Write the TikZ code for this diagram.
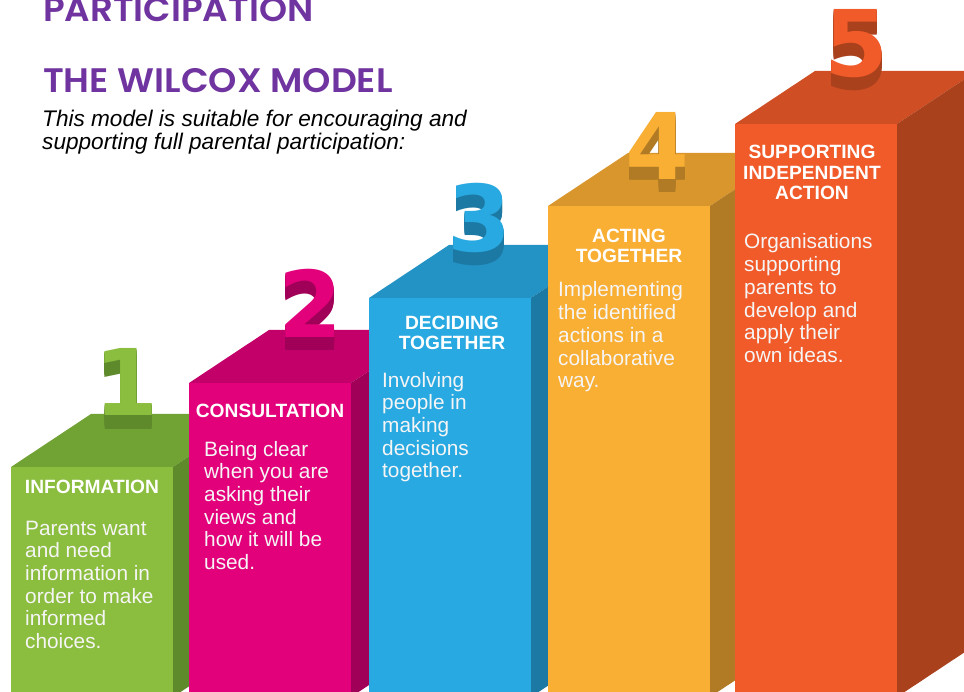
\documentclass[tikz,border=0pt]{standalone}
\usepackage{fontspec}
\setmainfont{Liberation Sans}
\newfontfamily\numfont{DejaVu Sans}[BoldFont=* Bold]
\IfFontExistsTF{Poppins SemiBold}{\newfontfamily\titlefont{Poppins SemiBold}}{%
  \IfFontExistsTF{Poppins Medium}{\newfontfamily\titlefont{Poppins Medium}}{%
    \newfontfamily\titlefont{Poppins}[FakeBold=1.2]}}
\definecolor{ttl}{HTML}{7034A0}
\definecolor{gF}{HTML}{8BBD3E}\definecolor{gT}{HTML}{70A234}\definecolor{gS}{HTML}{5E8A2C}
\definecolor{pF}{HTML}{E3007B}\definecolor{pT}{HTML}{C3006A}\definecolor{pS}{HTML}{A10058}
\definecolor{bF}{HTML}{29A9E1}\definecolor{bT}{HTML}{2392C4}\definecolor{bS}{HTML}{1C79A3}
\definecolor{oF}{HTML}{F9AE34}\definecolor{oT}{HTML}{D9962D}\definecolor{oS}{HTML}{B07B24}
\definecolor{rF}{HTML}{F15A29}\definecolor{rT}{HTML}{D04E23}\definecolor{rS}{HTML}{A9411D}
\newcommand\drawcolumn[5]{%
  \fill[#4] (#1,#2) -- ++(162,0) -- ++(80,-53) -- ++(-162,0) -- cycle;
  \fill[#5] (#1+162,#2) -- ++(80,-53) -- (#1+242,644) -- (#1+162,697) -- cycle;
  \fill[#3] (#1,#2) rectangle (#1+162,697);
}
\newcommand\drawnumber[6]{% name, x, baseline y, digit, front, dark
  \foreach \d in {1,...,13}{\node[numtxt, text=#6] at (#2,#3+\d) {#4};}
  \node[numtxt, text=#5] (#1) at (#2,#3) {#4};
}
\tikzset{
  numtxt/.style={anchor=base, inner sep=0, font=\numfont\bfseries\fontsize{92}{92}\selectfont},
  lbl/.style={anchor=base, inner sep=0, align=center, text=white,
    font=\bfseries\fontsize{19.2}{20.5}\selectfont},
  body/.style={anchor=base west, inner sep=0, align=left, text=white!96!black,
    font=\fontsize{20.8}{22.7}\selectfont},
  ttlstyle/.style={anchor=base west, inner sep=0, text=ttl,
    font=\titlefont\fontsize{34}{34}\selectfont},
}
\begin{document}
\begin{tikzpicture}[x=1pt,y=-1pt]
\useasboundingbox (0,0) rectangle (964,692);
\clip (0,0) rectangle (964,692);
\fill[white] (0,0) rectangle (964,692);
% titles (multi-line nodes: base anchor = last baseline)
\node[ttlstyle] (t1) at (43,22) {\scalebox{1.05}[1]{PARTICIPATION}};
\node[ttlstyle] (t2) at (43,93) {\scalebox{1.06}[1]{THE WILCOX MODEL}};
\node[anchor=base west, inner sep=0, align=left, font=\itshape\fontsize{22.6}{22.5}\selectfont]
  (intro) at (42,149.5) {This model is suitable for encouraging and\\supporting full parental participation:};
% columns
\drawcolumn{11}{467}{gF}{gT}{gS}
\drawnumber{n1}{127}{416}{1}{gF}{gS}
\drawcolumn{189}{383}{pF}{pT}{pS}
\drawnumber{n2}{311}{338}{2}{pF}{pS}
\drawcolumn{369}{298}{bF}{bT}{bS}
\drawnumber{n3}{480}{252}{3}{bF}{bS}
\drawcolumn{548}{206}{oF}{oT}{oS}
\drawnumber{n4}{658}{180}{4}{oF}{oS}
\drawcolumn{735}{124}{rF}{rT}{rS}
\drawnumber{n5}{856}{77}{5}{rF}{rS}
% labels
\node[lbl] (l1) at (92,493) {INFORMATION};
\node[lbl] (l2) at (270,418) {CONSULTATION};
\node[lbl] (l3) at (452,350) {DECIDING\\TOGETHER};
\node[lbl] (l4) at (629,263) {ACTING\\TOGETHER};
\node[lbl] (l5) at (812,200) {SUPPORTING\\INDEPENDENT\\ACTION};
% body texts
\node[body] (b1) at (25,648.5) {Parents want\\and need\\information in\\order to make\\informed\\choices.};
\node[body] (b2) at (204,569.5) {Being clear\\when you are\\asking their\\views and\\how it will be\\used.};
\node[body] (b3) at (382,477.8) {Involving\\people in\\making\\decisions\\together.};
\node[body] (b4) at (558,387.8) {Implementing\\the identified\\actions in a\\collaborative\\way.};
\node[body] (b5) at (744,362.5) {Organisations\\supporting\\parents to\\develop and\\apply their\\own ideas.};
\end{tikzpicture}
\end{document}
